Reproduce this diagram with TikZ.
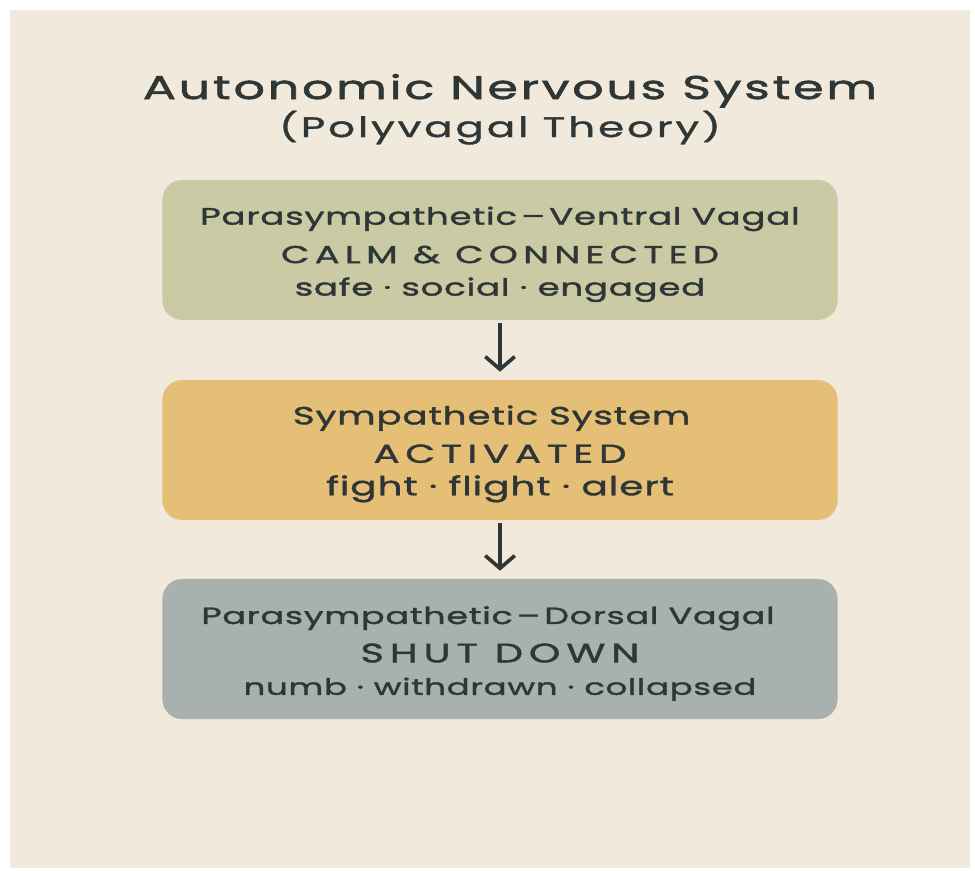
\documentclass[tikz,border=0pt]{standalone}
\usepackage{fontspec}
\setmainfont{Poppins}[FakeStretch=1.5,LetterSpace=3,FakeBold=1.5]
\newfontfamily\titlefont{Poppins}[FakeStretch=1.5,LetterSpace=8,FakeBold=1.7]
\newfontfamily\subtitlefont{Poppins}[FakeStretch=1.5,LetterSpace=10,FakeBold=1.2]
\newfontfamily\capsfont{Poppins}[FakeStretch=1.5,LetterSpace=22,FakeBold=1.5]
\newcommand\sz[1]{\fontsize{#1}{24.5}\selectfont}
\newcommand\boxfont{\sz{17}\lineskiplimit=-50pt\relax}
\usetikzlibrary{arrows.meta}
\definecolor{paper}{HTML}{F2E9DD}
\definecolor{ink}{HTML}{2E3636}
\definecolor{ventralfill}{HTML}{CACAA5}
\definecolor{sympfill}{HTML}{E6BF77}
\definecolor{dorsalfill}{HTML}{A9B1AF}
\tikzset{
  statebox/.style={rounded corners=14pt, minimum width=16.875cm, minimum height=3.5cm,
    text=ink, align=center, font=\boxfont},
  flow/.style={draw=ink, line width=2.6pt, -{Straight Barb[length=9pt,width=21pt,line width=2.6pt]},
    shorten <=2pt, shorten >=5.7pt}
}

\begin{document}
\begin{tikzpicture}[x=0.025cm,y=-0.025cm]
\useasboundingbox (0,0) rectangle (975,870);
\fill[white] (0,0) rectangle (975,870);
\fill[paper] (10,10) rectangle (970,868);
\node[text=ink, anchor=base, inner sep=0pt, font=\titlefont\fontsize{23.4}{28}\selectfont] (title) at (510,99) {Autonomic Nervous System};
\node[text=ink, anchor=base, inner sep=0pt, font=\subtitlefont\fontsize{20}{24}\selectfont] (subtitle) at (500,137) {(Polyvagal Theory)};
\node[statebox, fill=ventralfill] (ventral) at (500,250) {\rule{0pt}{19pt}{\sz{16.9}Parasympathetic\,–\,Ventral Vagal}\\[2.8pt]
{\capsfont\sz{17.4}CALM \& CONNECTED}\\[-1.4pt]
{\sz{16.9}safe · social · engaged}};
\node[statebox, fill=sympfill] (symp) at (500,450) {\rule{0pt}{19pt}{\sz{17.7}Sympathetic System}\hspace*{12pt}\\[2.8pt]
{\capsfont\sz{18.4}ACTIVATED}\hspace*{10.6pt}\\[-1.4pt]
{\sz{18.6}fight · flight · alert}};
\node[statebox, fill=dorsalfill] (dorsal) at (500,649) {\rule{0pt}{19pt}{\sz{16.6}Parasympathetic\,–\,Dorsal Vagal}\hspace*{17pt}\\[2.8pt]
{\capsfont\sz{19}SHUT DOWN}\hspace*{9pt}\\[-1.4pt]
{\sz{16.1}numb · withdrawn · collapsed}};
\draw[flow] (ventral) -- (symp);
\draw[flow] (symp) -- (dorsal);
\end{tikzpicture}
\end{document}
